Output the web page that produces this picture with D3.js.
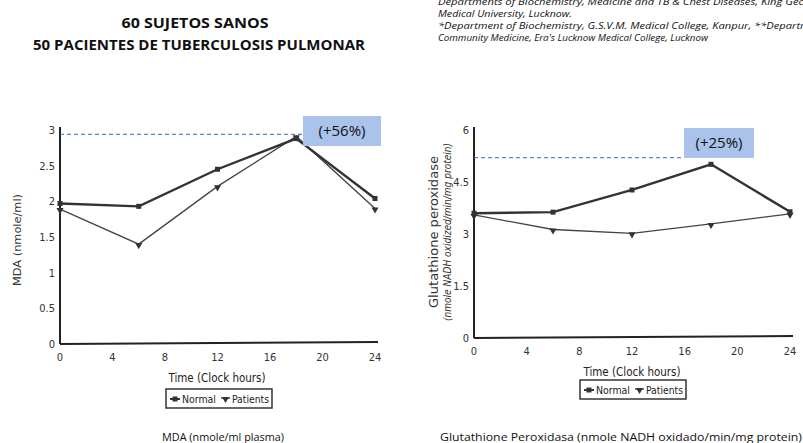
<!DOCTYPE html>
<html><head><meta charset="utf-8">
<script src="https://cdn.jsdelivr.net/npm/d3@7"></script>
<style>body{margin:0;background:#fff}svg{display:block}</style>
</head><body>
<script>
const hours = [0, 6, 12, 18, 24];
const mdaNormal = [1.97, 1.93, 2.45, 2.88, 2.04];
const mdaPatients = [1.89, 1.40, 2.21, 2.91, 1.90];
const gpxNormal = [3.60, 3.63, 4.27, 5.01, 3.64];
const gpxPatients = [3.55, 3.13, 3.02, 3.29, 3.58];
const xTicks = [0, 4, 8, 12, 16, 20, 24];
const mdaTicks = [0, 0.5, 1, 1.5, 2, 2.5, 3];
const gpxTicks = [0, 1.5, 3, 4.5, 6];
const refValues = [2.94, 5.2];
const annotations = ["(+56%)", "(+25%)"];
const seriesNames = ["Normal", "Patients"];

const W = 803, H = 443;
const svg = d3.select("body").append("svg").attr("width", W).attr("height", H);
const narrow = "'Liberation Sans Narrow','Arial Narrow','DejaVu Sans Condensed',sans-serif";
const calib = "'Open Sans','Noto Sans',sans-serif";

// Titles
svg.append("text").attr("x", 195).attr("y", 28).attr("text-anchor", "middle")
  .attr("font-family", calib).attr("font-weight", "bold").attr("font-size", 15)
  .attr("textLength", 147).attr("lengthAdjust", "spacingAndGlyphs").attr("fill", "#111")
  .text("60 SUJETOS SANOS");
svg.append("text").attr("x", 199).attr("y", 50).attr("text-anchor", "middle")
  .attr("font-family", calib).attr("font-weight", "bold").attr("font-size", 15)
  .attr("textLength", 332).attr("lengthAdjust", "spacingAndGlyphs").attr("fill", "#111")
  .text("50 PACIENTES DE TUBERCULOSIS PULMONAR");

const affil = [
  ["Departments of Biochemistry, Medicine and TB & Chest Diseases, King George's", 5, 390],
  ["Medical University, Lucknow.", 17, 134],
  ["*Department of Biochemistry, G.S.V.M. Medical College, Kanpur, **Department of", 29, 400],
  ["Community Medicine, Era's Lucknow Medical College, Lucknow", 41, 270]
];
affil.forEach(([t, y, len]) => {
  svg.append("text").attr("x", 438).attr("y", y)
    .attr("font-family", calib).attr("font-style", "italic").attr("font-size", 9.5)
    .attr("textLength", len).attr("lengthAdjust", "spacingAndGlyphs").attr("fill", "#111").text(t);
});

// Bottom captions
svg.append("text").attr("x", 223).attr("y", 441).attr("text-anchor", "middle")
  .attr("font-family", calib).attr("font-size", 11.5).attr("fill", "#111")
  .attr("textLength", 122).attr("lengthAdjust", "spacingAndGlyphs")
  .text("MDA (nmole/ml plasma)");
svg.append("text").attr("x", 440).attr("y", 441)
  .attr("font-family", calib).attr("font-size", 11.5).attr("fill", "#111")
  .attr("textLength", 362).attr("lengthAdjust", "spacingAndGlyphs")
  .text("Glutathione Peroxidasa (nmole NADH oxidado/min/mg protein)");

function panel(cfg) {
  const x = d3.scaleLinear().domain([0, 24]).range([cfg.x0, cfg.x1]);
  const y = d3.scaleLinear().domain([0, cfg.yMax]).range([cfg.y0, cfg.y1]);
  const g = svg.append("g");
  g.append("line").attr("x1", cfg.x0).attr("x2", cfg.x0).attr("y1", cfg.y0).attr("y2", cfg.y1 - 3)
    .attr("stroke", "#222").attr("stroke-width", 2);
  g.append("line").attr("x1", cfg.x0).attr("x2", cfg.x1 + 3).attr("y1", cfg.y0).attr("y2", cfg.y0 - 2)
    .attr("stroke", "#222").attr("stroke-width", 2);
  g.selectAll(".yt").data(cfg.yTicks).enter().append("text")
    .attr("x", cfg.x0 - 5).attr("y", d => y(d) + 4).attr("text-anchor", "end")
    .attr("font-family", narrow).attr("font-size", 11).attr("fill", "#333")
    .text(d => d);
  g.selectAll(".xt").data(xTicks).enter().append("text")
    .attr("x", d => x(d)).attr("y", cfg.y0 + 17).attr("text-anchor", "middle")
    .attr("font-family", narrow).attr("font-size", 11).attr("fill", "#333")
    .text(d => d);
  g.append("text").attr("x", cfg.xt).attr("y", cfg.y0 + 38).attr("text-anchor", "middle")
    .attr("font-family", narrow).attr("font-size", 11.5).attr("fill", "#222").text("Time (Clock hours)");
  cfg.yTitles.forEach(([t, xx, fs, st, len]) => {
    g.append("text").attr("transform", `translate(${xx},${cfg.yTitleY}) rotate(-90)`)
      .attr("text-anchor", "middle").attr("font-family", narrow).attr("font-size", fs)
      .attr("font-style", st).attr("fill", "#333")
      .attr("textLength", len).attr("lengthAdjust", "spacingAndGlyphs").text(t);
  });
  g.append("line").attr("x1", cfg.x0).attr("x2", cfg.boxX).attr("y1", y(cfg.ref)).attr("y2", y(cfg.ref))
    .attr("stroke", "#2E64C8").attr("stroke-width", 1).attr("stroke-dasharray", "4,3");
  const line = d3.line().x((d, i) => x(hours[i])).y(d => y(d));
  g.append("path").datum(cfg.patients).attr("d", line).attr("fill", "none")
    .attr("stroke", "#444").attr("stroke-width", 1.3);
  g.append("path").datum(cfg.normal).attr("d", line).attr("fill", "none")
    .attr("stroke", "#333").attr("stroke-width", 2.4);
  g.selectAll(".mn").data(cfg.normal).enter().append("rect")
    .attr("x", (d, i) => x(hours[i]) - 2.5).attr("y", d => y(d) - 2.5)
    .attr("width", 5).attr("height", 5).attr("fill", "#333");
  const tri = d3.symbol().type(d3.symbolTriangle).size(22);
  g.selectAll(".mp").data(cfg.patients).enter().append("path")
    .attr("d", tri).attr("fill", "#333")
    .attr("transform", (d, i) => `translate(${x(hours[i])},${y(d) + 1}) rotate(180)`);
  g.append("rect").attr("x", cfg.boxX).attr("y", cfg.boxY).attr("width", cfg.boxW).attr("height", 30)
    .attr("fill", "#A9C3EA");
  g.append("text").attr("x", cfg.boxX + cfg.boxW / 2).attr("y", cfg.boxY + 20).attr("text-anchor", "middle")
    .attr("font-family", calib).attr("font-size", 15).attr("fill", "#111").text(cfg.note);
  const lg = g.append("g").attr("transform", `translate(${cfg.lx},${cfg.ly})`);
  lg.append("rect").attr("width", 106).attr("height", 19).attr("fill", "#fff")
    .attr("stroke", "#333").attr("stroke-width", 1.5);
  lg.append("line").attr("x1", 4).attr("x2", 14).attr("y1", 10).attr("y2", 10).attr("stroke", "#333").attr("stroke-width", 2);
  lg.append("rect").attr("x", 6.5).attr("y", 7.5).attr("width", 5).attr("height", 5).attr("fill", "#333");
  lg.append("text").attr("x", 16).attr("y", 14).attr("font-family", narrow).attr("font-size", 11)
    .attr("textLength", 34).attr("lengthAdjust", "spacingAndGlyphs").attr("fill", "#222").text(seriesNames[0]);
  lg.append("line").attr("x1", 55).attr("x2", 64).attr("y1", 9).attr("y2", 9).attr("stroke", "#333").attr("stroke-width", 1.3);
  lg.append("path").attr("d", tri).attr("fill", "#333").attr("transform", "translate(59.5,10) rotate(180)");
  lg.append("text").attr("x", 66).attr("y", 14).attr("font-family", narrow).attr("font-size", 11)
    .attr("textLength", 37).attr("lengthAdjust", "spacingAndGlyphs").attr("fill", "#222").text(seriesNames[1]);
}

panel({
  x0: 60, x1: 375, y0: 344, y1: 130, yMax: 3, yTicks: mdaTicks,
  normal: mdaNormal, patients: mdaPatients, ref: refValues[0],
  boxX: 303, boxY: 116, boxW: 78, note: annotations[0],
  xt: 217, yTitleY: 240, yTitles: [["MDA (nmole/ml)", 21, 11, "normal", 92]],
  lx: 166, ly: 389
});
panel({
  x0: 474, x1: 790, y0: 338, y1: 130, yMax: 6, yTicks: gpxTicks,
  normal: gpxNormal, patients: gpxPatients, ref: refValues[1],
  boxX: 684, boxY: 128, boxW: 70, note: annotations[1],
  xt: 632, yTitleY: 232, yTitles: [["Glutathione peroxidase", 438, 12, "normal", 152], ["(nmole NADH oxidized/min/mg protein)", 451, 10, "italic", 178]],
  lx: 580, ly: 380
});
</script>
</body></html>
